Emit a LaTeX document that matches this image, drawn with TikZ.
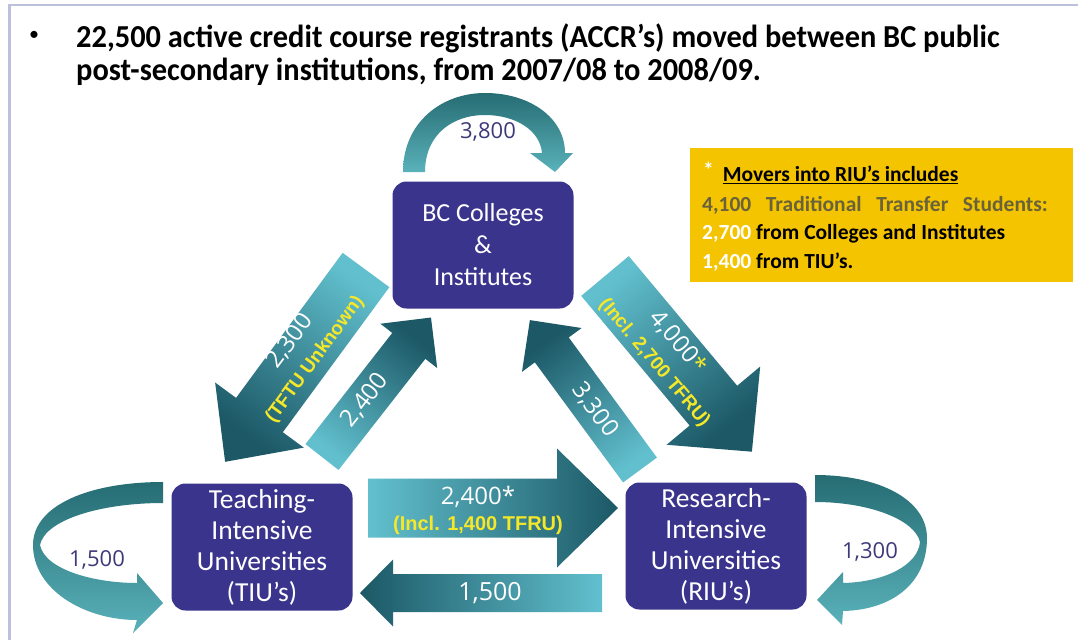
\documentclass[tikz,border=0pt]{standalone}
\usepackage{fontspec}
\setmainfont{Carlito}
\newfontfamily\titlefont[FakeStretch=0.95]{Carlito}
\newfontfamily\numfont{Open Sans}
\newfontfamily\tagfont{Liberation Sans}

\definecolor{boxpurple}{RGB}{58,52,140}
\definecolor{numpurple}{RGB}{62,58,122}
\definecolor{tealdark}{RGB}{28,88,102}
\definecolor{teallight}{RGB}{98,192,206}
\definecolor{loopdark}{RGB}{38,108,115}
\definecolor{looplight}{RGB}{90,178,186}
\definecolor{notegold}{RGB}{244,196,0}
\definecolor{noteyellow}{RGB}{245,232,40}
\definecolor{noteolive}{RGB}{105,98,58}
\definecolor{framegrey}{RGB}{188,192,218}

% block arrow: tail, angle, length, half body, half head, head length
\newcommand{\blockarrow}[6]{%
  \path[shift={#1}, rotate=#2, bottom color=teallight, top color=tealdark, shading angle=#2-90]
    (0,-#4) -- ({#3-#6},-#4) -- ({#3-#6},-#5) -- (#3,0) -- ({#3-#6},#5) -- ({#3-#6},#4) -- (0,#4) -- cycle;}
\newcommand{\tfr}[1]{{\tagfont\bfseries\color{noteyellow}\fontsize{19}{22}\selectfont #1}}

\begin{document}
\begin{tikzpicture}[x=1pt, y=1pt,
    inst_box/.style={rounded corners=14pt, fill=boxpurple, text=white, align=center,
      minimum width=181pt, minimum height=127pt, inner sep=0pt, font=\fontsize{26}{32}\selectfont},
    loop_shade/.style={top color=loopdark, bottom color=looplight},
    loop_label/.style={text=numpurple, inner sep=0pt, font=\numfont\fontsize{22}{26}\selectfont},
    flow_label/.style={text=white, align=center, inner sep=0pt, font=\numfont\fontsize{24}{24}\selectfont},
    note_line/.style={anchor=west, inner sep=0pt, font=\bfseries\fontsize{21.5}{24}\selectfont}]

    \useasboundingbox[fill=white] (0,0) rectangle (1078,-640);
    \draw[framegrey, line width=3pt] (9,-640) -- (9,-5);
    \draw[framegrey, line width=2pt] (8,-5) -- (1078,-5);

    % title
    \node[inner sep=0pt, font=\fontsize{20}{20}\selectfont] (bullet) at (34,-36) {\textbullet};
    \node[anchor=base west, inner sep=0pt, font=\titlefont\bfseries\fontsize{32}{32}\selectfont] (title1) at (76,-47)
      {22,500 active credit course registrants (ACCR’s) moved between BC public};
    \node[anchor=base west, inner sep=0pt, font=\titlefont\bfseries\fontsize{32}{32}\selectfont] (title2) at (76,-80)
      {post-secondary institutions, from 2007/08 to 2008/09.};

    % self loops
    \path[loop_shade] (403,-172) .. controls (403,-122) and (442,-93) .. (485,-93)
      .. controls (530,-93) and (565,-118) .. (565,-153) -- (573,-153) -- (555,-172) -- (530,-153) -- (542,-153)
      .. controls (540,-130) and (515,-115) .. (485,-115) .. controls (452,-115) and (425,-135) .. (425,-172) -- cycle;
    \path[loop_shade] (163,-482) .. controls (90,-482) and (33,-505) .. (33,-545)
      .. controls (33,-590) and (85,-620) .. (137,-620) -- (133,-633) -- (163,-603) -- (137,-573) -- (137,-583)
      .. controls (95,-583) and (45,-570) .. (40,-545) .. controls (45,-520) and (100,-503) .. (163,-503) -- cycle;
    \path[loop_shade] (815,-475) .. controls (880,-475) and (927,-500) .. (927,-538)
      .. controls (927,-585) and (890,-610) .. (843,-611) -- (842,-625) -- (817,-600) -- (843,-572) -- (843,-583)
      .. controls (885,-582) and (918,-565) .. (920,-542) .. controls (915,-520) and (870,-502) .. (815,-502) -- cycle;

    % flows between institutions
    \blockarrow{(366,-270)}{233.7}{238}{29}{55}{58}
    \blockarrow{(322,-457)}{52}{177}{21}{36}{36}
    \blockarrow{(605,-276)}{-50.1}{229}{31}{61}{60}
    \blockarrow{(640,-470)}{126.3}{186}{21}{37}{37}
    \blockarrow{(368,-508)}{0}{250}{29.5}{59.5}{61}
    \blockarrow{(602,-593)}{180}{242}{19}{33.5}{33}

    \node[flow_label, rotate=53.7] (f2300) at (302,-350) {2,300\\[5pt]\tfr{(TFTU Unknown)}};
    \node[flow_label, rotate=52] (f2400u) at (365,-400) {2,400};
    \node[flow_label, rotate=-50] (f4000) at (667,-352) {4,000{\color{noteyellow}*}\\[5pt]\tfr{(Incl. 2,700 TFRU)}};
    \node[flow_label, rotate=-53.7] (f3300) at (595,-410) {3,300};
    \node[flow_label, font=\numfont\fontsize{24}{26}\selectfont] (f2400r) at (478,-510) {2,400*\\\tfr{\fontsize{20}{22}\selectfont(Incl. 1,400 TFRU)}};
    \node[flow_label, font=\numfont\fontsize{25}{26}\selectfont] (f1500b) at (490,-593) {1,500};

    % institutions
    \node[inst_box] (bc) at (483,-245) {BC Colleges\\\&\\Institutes};
    \node[inst_box, font=\fontsize{27.5}{31}\selectfont] (tiu) at (262,-547) {Teaching-\\Intensive\\Universities\\(TIU’s)};
    \node[inst_box, font=\fontsize{27.5}{31}\selectfont] (riu) at (716,-546) {Research-\\Intensive\\Universities\\(RIU’s)};

    \node[loop_label] (l3800) at (488,-132) {3,800};
    \node[loop_label] (l1500) at (97,-560) {1,500};
    \node[loop_label] (l1300) at (870,-552) {1,300};

    % note on transfers
    \node[fill=notegold, minimum width=383pt, minimum height=134pt, inner sep=0pt] (note) at (881.5,-215) {};
    \node[note_line] (note1) at (703,-173) {{\color{white}\raisebox{4pt}{*}}\hspace{9pt}\underline{Movers into RIU’s includes}};
    \node[note_line, text=noteolive] (note2) at (702,-205) {4,100 \ \ Traditional \ \ Transfer \ \ Students:};
    \node[note_line] (note3) at (702,-234) {{\color{white}2,700} from Colleges and Institutes};
    \node[note_line] (note4) at (702,-262) {{\color{white}1,400} from TIU’s.};
\end{tikzpicture}
\end{document}
